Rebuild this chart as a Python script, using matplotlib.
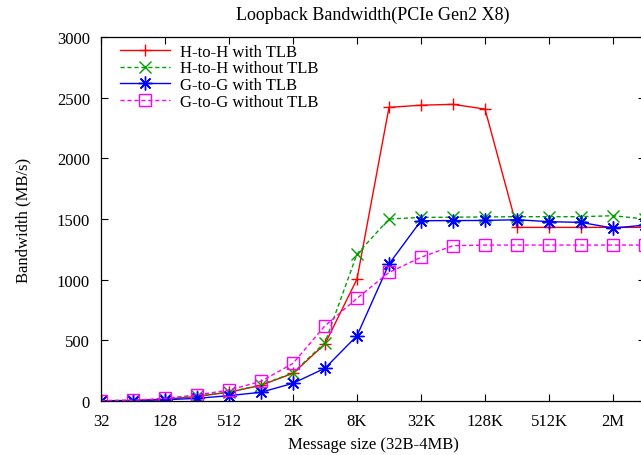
import matplotlib
matplotlib.use("Agg")
import matplotlib.pyplot as plt
from matplotlib.ticker import FixedLocator, NullLocator

plt.rcParams['font.family'] = ['Liberation Serif', 'DejaVu Serif']

# message sizes in bytes, 32B .. 4MB
sizes = [32, 64, 128, 256, 512, 1024, 2048, 4096, 8192, 16384, 32768, 65536,
         131072, 262144, 524288, 1048576, 2097152, 4194304]

hh_tlb = [2, 5, 15, 38, 72, 130, 228, 470, 1005, 2420, 2438, 2445,
          2406, 1431, 1431, 1431, 1431, 1431]
hh_notlb = [2, 5, 15, 40, 74, 132, 232, 482, 1211, 1500, 1513, 1515,
            1517, 1519, 1519, 1519, 1527, 1500]
gg_tlb = [1, 3, 10, 22, 44, 72, 146, 270, 538, 1129, 1486, 1487,
          1488, 1494, 1478, 1472, 1425, 1450]
gg_notlb = [3, 6, 22, 50, 90, 162, 310, 620, 846, 1060, 1184, 1280,
            1285, 1285, 1285, 1285, 1285, 1285]

tick_vals = [32, 128, 512, 2048, 8192, 32768, 131072, 524288, 2097152]
tick_text = ['32', '128', '512', '2K', '8K', '32K', '128K', '512K', '2M']

fig = plt.figure(figsize=(6.41, 4.56), dpi=100)
ax = fig.add_axes([101 / 641, 54 / 456, 544 / 641, 364 / 456])

ax.plot(sizes, hh_tlb, color='#ff0000', lw=1.0, marker='+', ms=9, mew=1.0,
        label='H-to-H with TLB')
ax.plot(sizes, hh_notlb, color='#00a000', lw=1.0, ls=(0, (3, 2)), marker='x',
        ms=8, mew=1.0, label='H-to-H without TLB')
ax.plot(sizes, gg_tlb, color='#0000ff', lw=1.0, marker=(8, 2, 0), ms=10,
        mew=1.0, label='G-to-G with TLB')
ax.plot(sizes, gg_notlb, color='#ff00ff', lw=1.0, ls=(0, (3, 2)), marker='s',
        ms=8, mew=1.0, mfc='none', label='G-to-G without TLB')

ax.set_xscale('log', base=2)
ax.set_xlim(32, 4194304)
ax.set_ylim(0, 3000)
ax.xaxis.set_major_locator(FixedLocator(tick_vals))
ax.set_xticklabels(tick_text)
ax.xaxis.set_minor_locator(NullLocator())
ax.set_yticks(range(0, 3001, 500))

ax.tick_params(direction='in', top=True, right=True, length=5, width=0.8,
               labelsize=12)
ax.tick_params(axis='x', pad=9)
ax.tick_params(axis='y', pad=8)
for s in ax.spines.values():
    s.set_linewidth(0.9)

ax.set_title('Loopback Bandwidth(PCIe Gen2 X8)', fontsize=13, pad=13)
ax.set_xlabel('Message size (32B-4MB)', fontsize=12, labelpad=5)
ax.set_ylabel('Bandwidth (MB/s)', fontsize=12, labelpad=18)

ax.legend(loc='upper left', frameon=False, fontsize=12, handlelength=3,
          handletextpad=0.6, labelspacing=0.05, borderaxespad=0,
          borderpad=0, bbox_to_anchor=(0.035, 0.982))

fig.savefig('out.png', dpi=100)
